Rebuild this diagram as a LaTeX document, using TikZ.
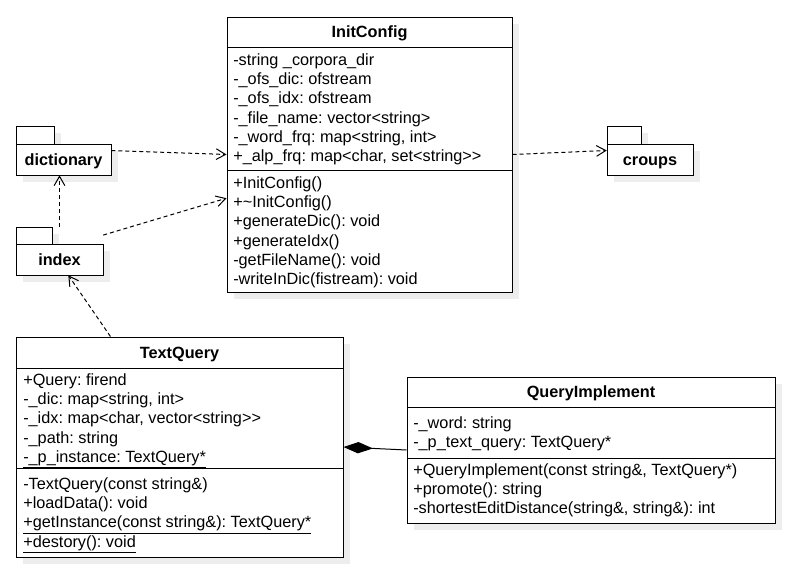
\documentclass[tikz,border=0pt]{standalone}
\usepackage{fontspec}
\newfontfamily\umlfont{Liberation Sans}[Ligatures=NoCommon]
\newcommand\umlsize{\fontsize{12.2pt}{14.6pt}\selectfont}
\usetikzlibrary{arrows.meta,fit,shadows}
\frenchspacing
\begin{document}
\begin{tikzpicture}[x=0.75pt,y=-0.75pt,
  every node/.style={font=\umlfont\umlsize},
  shade7/.style={drop shadow={shadow xshift=5pt,shadow yshift=-5pt,fill=black!7,opacity=1}},
  box/.style={draw=black,line width=0.75pt,fill=white,inner sep=0pt,shade7},
  bounds/.style={inner sep=0pt},
  sepline/.style={draw=black,line width=0.75pt},
  mem/.style={anchor=base west,inner sep=0pt},
  hdr/.style={anchor=base,inner sep=0pt,font=\umlfont\umlsize\bfseries},
  plabel/.style={anchor=base,inner sep=0pt,font=\umlfont\umlsize\bfseries},
  dep/.style={draw=black,line width=0.75pt,dash pattern=on 3pt off 2.25pt,
    -{Straight Barb[length=7pt,width=8pt,line width=0.75pt]}},
  comp/.style={draw=black,line width=0.75pt,-{Diamond[length=22pt,width=8.5pt]}}
]
\path[use as bounding box,fill=white] (0,0) rectangle (798,571);

% ---------- packages ----------
\node[box,fit={(16,126)(54,144)}] (dtab) {};
\node[box,fit={(16,144)(111,175)}] (dbody) {};
\node[plabel] (dlbl) at (63.5,165) {dictionary};
\node[bounds,fit={(16,126)(111,175)}] (dict) {};

\node[box,fit={(16,227)(52,244)}] (itab) {};
\node[box,fit={(16,244)(103,275)}] (ibody) {};
\node[plabel] (ilbl) at (59.5,265) {index};
\node[bounds,fit={(16,227)(103,275)}] (idx) {};

\node[box,fit={(607,126)(641,144)}] (ctab) {};
\node[box,fit={(607,144)(693,175)}] (cbody) {};
\node[plabel] (clbl) at (650,165) {croups};
\node[bounds,fit={(607,126)(693,175)}] (cr) {};

% ---------- InitConfig ----------
\node[box,fit={(227,17)(512,292)}] (ic) {};
\draw[sepline] (227,47) -- (512,47);
\draw[sepline] (227,170) -- (512,170);
\node[hdr] (ich) at (369.5,37.8) {InitConfig};
\node[mem] (ica1) at (233,65.5) {-string \_corpora\_dir};
\node[mem] (ica2) at (233,84.7) {-\_ofs\_dic: ofstream};
\node[mem] (ica3) at (233,103.9) {-\_ofs\_idx: ofstream};
\node[mem] (ica4) at (233,123.1) {-\_file\_name: vector<string>};
\node[mem] (ica5) at (233,142.3) {-\_word\_frq: map<string, int>};
\node[mem] (ica6) at (233,161.5) {+\_alp\_frq: map<char, set<string>>};
\node[mem] (icm1) at (233,188.5) {+InitConfig()};
\node[mem] (icm2) at (233,207.7) {+\textasciitilde InitConfig()};
\node[mem] (icm3) at (233,226.9) {+generateDic(): void};
\node[mem] (icm4) at (233,246.1) {+generateIdx()};
\node[mem] (icm5) at (233,265.3) {-getFileName(): void};
\node[mem] (icm6) at (233,284.5) {-writeInDic(fistream): void};

% ---------- TextQuery ----------
\node[box,fit={(16,337)(343,557)}] (tq) {};
\draw[sepline] (16,368) -- (343,368);
\draw[sepline] (16,468) -- (343,468);
\node[hdr] (tqh) at (179.5,358.5) {TextQuery};
\node[mem] (tqa1) at (23,385.5) {+Query: firend};
\node[mem] (tqa2) at (23,404.7) {-\_dic: map<string, int>};
\node[mem] (tqa3) at (23,423.9) {-\_idx: map<char, vector<string>>};
\node[mem] (tqa4) at (23,443.1) {-\_path: string};
\node[mem] (tqa5) at (23,462.3) {\underline{-\_p\_instance: TextQuery*}};
\node[mem] (tqm1) at (23,489.5) {-TextQuery(const string\&)};
\node[mem] (tqm2) at (23,508.7) {+loadData(): void};
\node[mem] (tqm3) at (23,527.9) {\underline{+getInstance(const string\&): TextQuery*}};
\node[mem] (tqm4) at (23,547.1) {\underline{+destory(): void}};

% ---------- QueryImplement ----------
\node[box,fit={(407,377)(775,523)}] (qi) {};
\draw[sepline] (407,407) -- (775,407);
\draw[sepline] (407,458) -- (775,458);
\node[hdr] (qih) at (591,397.5) {QueryImplement};
\node[mem] (qia1) at (413,428.5) {-\_word: string};
\node[mem] (qia2) at (413,447.7) {-\_p\_text\_query: TextQuery*};
\node[mem] (qim1) at (413,475.5) {+QueryImplement(const string\&, TextQuery*)};
\node[mem] (qim2) at (413,494.7) {+promote(): string};
\node[mem] (qim3) at (413,513.9) {-shortestEditDistance(string\&, string\&): int};

% ---------- connectors ----------
\draw[dep] (dict.east) -- (ic.west);
\draw[dep] (idx.20) -- (ic.197);
\draw[dep] (idx.north) -- (idx.north |- dict.south);
\draw[dep] (tq.122) -- (idx.-70);
\draw[dep] (ic.east) -- (cr.west);
\draw[comp] (qi.west) -- (tq.east);
\end{tikzpicture}
\end{document}
